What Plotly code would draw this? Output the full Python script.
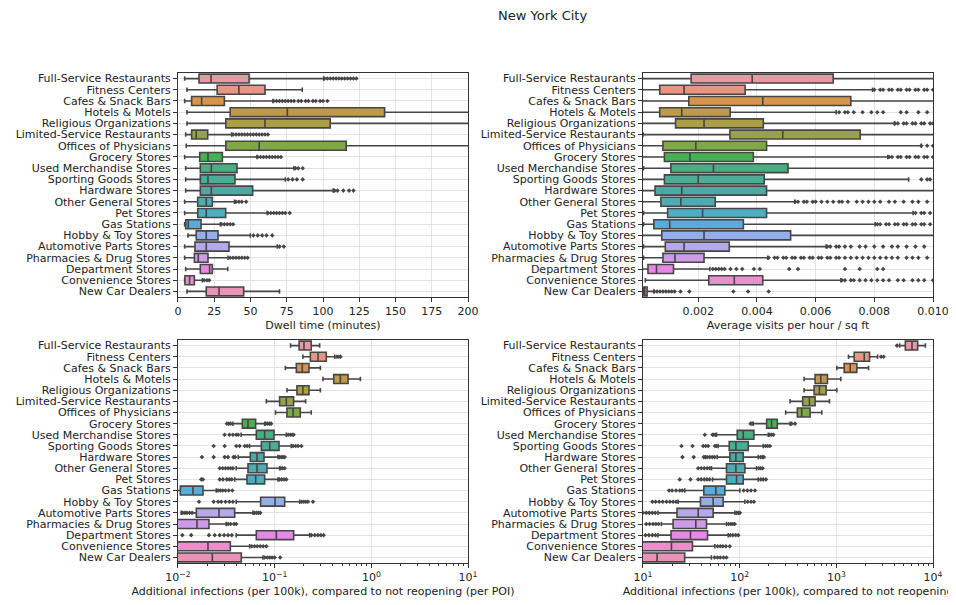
import colorsys
import math
import plotly.graph_objects as go

cats = ["Full-Service Restaurants", "Fitness Centers", "Cafes & Snack Bars", "Hotels & Motels",
        "Religious Organizations", "Limited-Service Restaurants", "Offices of Physicians",
        "Grocery Stores", "Used Merchandise Stores", "Sporting Goods Stores", "Hardware Stores",
        "Other General Stores", "Pet Stores", "Gas Stations", "Hobby & Toy Stores",
        "Automotive Parts Stores", "Pharmacies & Drug Stores", "Department Stores",
        "Convenience Stores", "New Car Dealers"]

# dwell time (minutes)
dwell_lo = [4.6, 6.2, 4.6, 6.2, 6.2, 5.3, 5.7, 4.6, 5.3, 5.3, 5.3, 4.6, 4.6, 4.6, 6.9, 4.6, 4.6, 5.3, 4.6, 6.2]
dwell_q1 = [14.5, 27, 9.4, 36, 33, 9.4, 33, 15, 15.4, 15.4, 15.4, 13.6, 13.6, 5.3, 12.6, 11.7, 11.3, 15.4, 4.8, 19.5]
dwell_med = [22.8, 42, 16.3, 75.4, 60, 12.6, 56, 20.7, 23, 20.7, 23, 19.5, 19.5, 7.1, 19.5, 19.5, 14, 21.8, 8, 28.3]
dwell_q3 = [49, 60, 32, 142.5, 105, 20.5, 116, 30.6, 40.7, 39.3, 51.5, 23.7, 32.9, 15.9, 27.6, 35.2, 20.7, 23.7, 11.3, 45.3]
dwell_hi = [100.5, 85.7, 65.5, 260, 250, 37, 290, 54.5, 80, 74, 107, 39, 61.6, 29.2, 49.9, 68.5, 34.5, 34.3, 16.8, 70]
dwell_out = [
    [101, 103, 105, 107, 109, 111, 113, 115, 117, 119, 121, 123],
    [],
    [66, 68, 70, 72, 74, 76, 78, 80, 83, 85, 88, 90, 93, 95, 98, 100, 103],
    [], [],
    [38, 40, 42, 44, 46, 48, 50, 52, 54, 56, 58, 60, 62],
    [],
    [55, 57, 59, 61, 63, 65, 67, 69, 71],
    [81, 83, 86],
    [76, 79, 82, 86],
    [108, 110, 114, 118, 121],
    [40, 42, 44, 47],
    [62, 64, 66, 68, 70, 72, 74, 77],
    [30, 32, 34, 36, 38],
    [52, 55, 58, 61, 65],
    [70, 73],
    [36, 38, 40, 42, 44, 46, 48],
    [],
    [18, 20, 21.5],
    [],
]

# average visits per hour / sq ft
visit_lo = [0.0001, 0.0001, 0.0001, 0.0001, 0.0001, 0.00013, 0.0001, 0.0001, 0.00014, 0.0001,
            0.0001, 0.0001, 0.00014, 0.00014, 0.0001, 0.00014, 0.00014, 0.0001, 0.0002, 0.00013]
visit_q1 = [0.00176, 0.00069, 0.00168, 0.00069, 0.00123, 0.00308, 0.0008, 0.00085, 0.00107, 0.00085,
            0.00053, 0.00073, 0.00096, 0.00049, 0.00076, 0.00088, 0.0008, 0.00029, 0.00236, 0.00015]
visit_med = [0.00384, 0.00152, 0.0042, 0.00144, 0.0022, 0.00488, 0.00192, 0.00172, 0.00252, 0.002,
             0.00144, 0.00141, 0.00215, 0.00103, 0.0022, 0.00152, 0.00121, 0.00058, 0.00323, 0.00018]
visit_q3 = [0.0066, 0.0036, 0.0072, 0.00309, 0.00422, 0.00752, 0.00433, 0.00388, 0.00506, 0.00425,
            0.00433, 0.00258, 0.00433, 0.00354, 0.00515, 0.00306, 0.0022, 0.00116, 0.0042, 0.00026]
visit_hi = [0.012, 0.00794, 0.012, 0.0067, 0.00869, 0.012, 0.0096, 0.00846, 0.012, 0.00917,
            0.012, 0.00529, 0.00932, 0.00803, 0.012, 0.00636, 0.00437, 0.0024, 0.00686, 0.00049]
visit_out = [
    [],
    [0.0080, 0.0082, 0.0083, 0.0085, 0.0086, 0.0088, 0.0089, 0.0091, 0.0092, 0.0094, 0.0095, 0.0097, 0.0098, 0.0100],
    [],
    [0.0068, 0.0070, 0.0071, 0.0073, 0.0076, 0.0079, 0.0081, 0.0083, 0.0089, 0.0091, 0.0095, 0.0098],
    [0.0087, 0.0088, 0.0090, 0.0091, 0.0093, 0.0094, 0.0096, 0.0097, 0.0099, 0.0100],
    [],
    [0.0096, 0.0098, 0.0100],
    [0.0085, 0.0086, 0.0088, 0.0089, 0.0091, 0.0092, 0.0094, 0.0095, 0.0097, 0.0098, 0.0100],
    [],
    [0.0096, 0.0098, 0.0099],
    [],
    [0.0053, 0.0054, 0.0056, 0.0057, 0.0059, 0.0060, 0.0062, 0.0064, 0.0066, 0.0068, 0.0069, 0.0071,
     0.0074, 0.0076, 0.0078, 0.0080, 0.0082, 0.0085, 0.0087, 0.0090, 0.0093, 0.0095, 0.0098],
    [0.0094, 0.0096, 0.0097, 0.0099],
    [0.0081, 0.0082, 0.0084, 0.0085, 0.0087, 0.0088, 0.0090, 0.0091, 0.0093, 0.0094, 0.0096, 0.0097, 0.0099],
    [],
    [0.0064, 0.0065, 0.0067, 0.0068, 0.0070, 0.0072, 0.0075, 0.0077, 0.0080, 0.0083, 0.0086, 0.0088, 0.0091, 0.0094, 0.0097],
    [0.0044, 0.0046, 0.0047, 0.0049, 0.0050, 0.0052, 0.0053, 0.0055, 0.0056, 0.0058, 0.0059, 0.0061,
     0.0062, 0.0064, 0.0065, 0.0067, 0.0068, 0.0070, 0.0072, 0.0074, 0.0076, 0.0078, 0.0080, 0.0082,
     0.0084, 0.0086, 0.0088, 0.0091, 0.0093, 0.0095, 0.0098],
    [0.0025, 0.0026, 0.0027, 0.0028, 0.0029, 0.0031, 0.0033, 0.0035, 0.0039, 0.0041, 0.0051, 0.0054,
     0.0070, 0.0075, 0.0081, 0.0083],
    [0.0069, 0.0070, 0.0072, 0.0073, 0.0075, 0.0077, 0.0079, 0.0081, 0.0083, 0.0085, 0.0088, 0.0090,
     0.0093, 0.0095, 0.0097, 0.0100],
    [0.0005, 0.0006, 0.0007, 0.0008, 0.0009, 0.0010, 0.0011, 0.0012, 0.0014, 0.0017, 0.0032, 0.0037, 0.0044],
]

# additional infections per 100k, per POI
poi_lo = [0.146, 0.196, 0.129, 0.316, 0.134, 0.082, 0.102, 0.037, 0.045, 0.055,
          0.042, 0.040, 0.0386, 0.005, 0.040, 0.0108, 0.003, 0.040, 0.003, 0.003]
poi_q1 = [0.179, 0.234, 0.1675, 0.408, 0.170, 0.1126, 0.134, 0.0463, 0.0646, 0.0728,
          0.056, 0.053, 0.0517, 0.01057, 0.0716, 0.01548, 0.008, 0.0646, 0.007, 0.006]
poi_med = [0.201, 0.281, 0.193, 0.478, 0.196, 0.132, 0.155, 0.053, 0.0788, 0.0888,
           0.0657, 0.0657, 0.0636, 0.01429, 0.1008, 0.02655, 0.01573, 0.104, 0.02043, 0.02265]
poi_q3 = [0.239, 0.342, 0.2265, 0.574, 0.2265, 0.157, 0.184, 0.0636, 0.0984, 0.1109,
          0.0776, 0.0833, 0.0788, 0.01814, 0.1269, 0.0386, 0.02093, 0.1573, 0.0348, 0.0452]
poi_hi = [0.292, 0.418, 0.297, 0.770, 0.297, 0.209, 0.239, 0.0788, 0.132, 0.1487,
          0.1083, 0.1126, 0.1083, 0.0249, 0.1815, 0.0597, 0.0316, 0.2301, 0.0551, 0.0757]
poi_out = [
    [],
    [0.44, 0.46, 0.48],
    [], [], [], [], [],
    [0.0321, 0.0335, 0.035, 0.081, 0.085, 0.089, 0.092],
    [0.0304, 0.034, 0.037, 0.040, 0.042, 0.138, 0.145, 0.152, 0.157],
    [0.0234, 0.0304, 0.0401, 0.0434, 0.049, 0.052, 0.155, 0.165, 0.175, 0.189],
    [0.0177, 0.0234, 0.0304, 0.0329, 0.0375, 0.039, 0.112, 0.117, 0.122, 0.127],
    [0.027, 0.029, 0.031, 0.033, 0.035, 0.037, 0.116, 0.121, 0.127],
    [0.0174, 0.0181, 0.027, 0.0292, 0.032, 0.034, 0.036, 0.112, 0.118, 0.125, 0.132],
    [0.026, 0.0275, 0.029, 0.031, 0.0335, 0.0365],
    [0.0165, 0.0234, 0.026, 0.028, 0.031, 0.034, 0.037, 0.19, 0.2, 0.21, 0.221, 0.249],
    [0.0112, 0.0118, 0.0124, 0.0132, 0.014, 0.062, 0.065, 0.068, 0.071],
    [0.033, 0.035, 0.038, 0.040],
    [0.0111, 0.0137, 0.0209, 0.024, 0.027, 0.030, 0.033, 0.036, 0.24, 0.26, 0.28, 0.30, 0.321],
    [0.058, 0.062, 0.066, 0.071, 0.076, 0.082],
    [0.079, 0.084, 0.089, 0.094, 0.100, 0.114],
]

# additional infections per 100k, total
inf_lo = [4515, 1336, 1011, 464, 464, 332, 299, 138, 57.6, 59.9,
          58.5, 51.1, 52.4, 27.05, 23.07, 14.3, 15.5, 14.3, 3, 3]
inf_q1 = [5168, 1530, 1205, 603, 589, 449, 395, 190, 94.4, 78,
          79.2, 73.1, 73.1, 42.6, 39.3, 22.5, 20.5, 19.5, 8, 7]
inf_med = [6062, 1943, 1390, 690, 669, 527, 438, 214, 108.9, 91.4,
           91.4, 91.4, 92.9, 56.7, 53.2, 37.2, 35.2, 31, 19.7, 14]
inf_q3 = [6940, 2206, 1630, 809, 784, 603, 535, 245, 140.5, 122.7,
          108.9, 113.3, 108.9, 70.3, 67.5, 53.2, 45.4, 46.5, 32.5, 27]
inf_hi = [8332, 2671, 2154, 1113, 1011, 849, 707, 332, 197.8, 175.5,
          155.8, 149.7, 155.8, 100.6, 113.3, 89.25, 73.1, 76.1, 55.4, 51.1]
inf_out = [
    [4237],
    [2900, 3083],
    [], [], [], [], [],
    [129.7, 134, 345, 374],
    [43.6, 52.4, 54, 56, 205, 214, 223],
    [25, 32.5, 41.9, 44.5, 47.2, 55.4, 57.5, 185, 195, 205.8],
    [25.6, 33.5, 42.6, 44, 46, 49, 52, 55, 165, 172, 178],
    [37.2, 40, 43, 46, 49, 158, 165, 172.8],
    [24, 31, 37.2, 40, 43, 46, 49, 165, 175, 187],
    [18.6, 20, 22, 24, 25.5, 110, 120, 131, 144],
    [12.5, 13.5, 14.7, 16, 17.5, 19, 20.5, 22, 121, 131, 140.5],
    [10, 10.8, 11.6, 12.5, 13.4, 93, 97, 100.6],
    [10.8, 11.7, 12.7, 13.6, 14.5, 77, 81, 85, 89],
    [10.6, 11.5, 12.5, 13.5, 80, 85, 91, 96.6],
    [59, 63, 67, 72, 79],
    [55, 59, 63, 68, 73],
]

poi_ticks = [0.01, 0.1, 1, 10]
poi_ticktext = ["10<sup>\u22122</sup>", "10<sup>\u22121</sup>", "10<sup>0</sup>", "10<sup>1</sup>"]
inf_ticks = [10, 100, 1000, 10000]
inf_ticktext = ["10<sup>1</sup>", "10<sup>2</sup>", "10<sup>3</sup>", "10<sup>4</sup>"]

# seaborn husl palette (l=.7) desaturated to .75, like sns.boxplot does for many boxes
M = [[3.2406, -1.5372, -0.4986], [-0.9689, 1.8758, 0.0415], [0.0557, -0.2040, 1.0570]]


def max_chroma(L, H):
    hrad = math.radians(H)
    sinH, cosH = math.sin(hrad), math.cos(hrad)
    sub1 = (L + 16) ** 3 / 1560896.0
    sub2 = sub1 if sub1 > 0.008856 else L / 903.3
    result = float("inf")
    for m1, m2, m3 in M:
        top = (0.99915 * m1 + 1.05122 * m2 + 1.14460 * m3) * sub2
        rbottom = 0.86330 * m3 - 0.17266 * m2
        lbottom = 0.12949 * m3 - 0.38848 * m1
        bottom = (rbottom * sinH + lbottom * cosH) * sub2
        for t in (0.0, 1.0):
            C = L * (top - 1.05122 * t) / (bottom + 0.17266 * sinH * t)
            if 0.0 < C < result:
                result = C
    return result


def husl_rgb(H, S, L):
    C = max_chroma(L, H) / 100.0 * S
    U, V = C * math.cos(math.radians(H)), C * math.sin(math.radians(H))
    Y = ((L + 16) / 116.0) ** 3 if L > 8 else L / 903.2962962
    vu = U / (13 * L) + 0.19783941881
    vv = V / (13 * L) + 0.46834451983
    X = 0 - (9 * Y * vu) / ((vu - 4.0) * vv - vu * vv)
    Z = (9.0 * Y - 15.0 * vv * Y - vv * X) / (3.0 * vv)
    out = []
    for row in M:
        c = row[0] * X + row[1] * Y + row[2] * Z
        c = 12.92 * c if c <= 0.0031308 else 1.055 * c ** (1 / 2.4) - 0.055
        out.append(min(max(c, 0.0), 1.0))
    return out


colors = []
lights = []
for i in range(len(cats)):
    h = ((i / len(cats)) + 0.01) % 1 * 359
    r, g, b = husl_rgb(h, 0.9 * 99, 0.7 * 99)
    hh, ll, ss = colorsys.rgb_to_hls(r, g, b)
    r, g, b = colorsys.hls_to_rgb(hh, ll, ss * 0.75)
    lights.append(colorsys.rgb_to_hls(r, g, b)[1])
    colors.append("rgb(%d,%d,%d)" % (round(r * 255), round(g * 255), round(b * 255)))
lum = round(min(lights) * 0.6 * 255)
gray = "rgb(%d,%d,%d)" % (lum, lum, lum)

fig = go.Figure()

panels = [
    ("x", "y", dwell_lo, dwell_q1, dwell_med, dwell_q3, dwell_hi, dwell_out),
    ("x2", "y2", visit_lo, visit_q1, visit_med, visit_q3, visit_hi, visit_out),
    ("x3", "y3", poi_lo, poi_q1, poi_med, poi_q3, poi_hi, poi_out),
    ("x4", "y4", inf_lo, inf_q1, inf_med, inf_q3, inf_hi, inf_out),
]

for xa, ya, lo, q1, med, q3, hi, out in panels:
    for i, c in enumerate(cats):
        fig.add_trace(go.Box(
            y=[c], q1=[q1[i]], median=[med[i]], q3=[q3[i]],
            lowerfence=[lo[i]], upperfence=[hi[i]],
            orientation="h", width=0.8, whiskerwidth=0.5,
            fillcolor=colors[i], line=dict(color=gray, width=1.6),
            xaxis=xa, yaxis=ya, showlegend=False, hoverinfo="skip",
        ))
    ox, oy = [], []
    for i, c in enumerate(cats):
        ox += out[i]
        oy += [c] * len(out[i])
    fig.add_trace(go.Scatter(
        x=ox, y=oy, mode="markers",
        marker=dict(symbol="diamond", size=3.5, color=gray, line=dict(width=0)),
        xaxis=xa, yaxis=ya, showlegend=False, hoverinfo="skip",
    ))

grid = "#e3e3e3"
frame = "#333333"
title_font = dict(size=11)
common_x = dict(showline=True, mirror=True, linecolor=frame, linewidth=1, ticks="outside",
                ticklen=4, tickcolor=frame, showgrid=True, gridcolor=grid, zeroline=False,
                tickfont=dict(size=11), automargin=False)
common_y = dict(type="category", categoryorder="array", categoryarray=cats, range=[19.5, -0.5],
                tickmode="array", tickvals=cats,
                showline=True, mirror=True, linecolor=frame, linewidth=1, ticks="outside",
                ticklen=4, tickcolor=frame, showgrid=True, gridcolor=grid,
                tickfont=dict(size=11), automargin=False)
minor_log = dict(ticks="outside", ticklen=2, tickcolor=frame, showgrid=False, dtick="D1")

# the page body adds an 8px offset, so the domains below are shifted up/left by 8px
fig.update_layout(
    width=956, height=605,
    margin=dict(l=0, r=0, t=0, b=0),
    paper_bgcolor="white", plot_bgcolor="white",
    font=dict(family="DejaVu Sans", size=11, color="#222222"),
    xaxis=dict(common_x, domain=[0.1778, 0.4812], anchor="y", range=[0, 200], dtick=25,
               title=dict(text="Dwell time (minutes)", standoff=4, font=title_font)),
    yaxis=dict(common_y, domain=[0.5223, 0.8926], anchor="x"),
    xaxis2=dict(common_x, domain=[0.6642, 0.9676], anchor="y2", range=[0.00012, 0.010],
                tick0=0, dtick=0.002, tickformat=".3f",
                title=dict(text="Average visits per hour / sq ft", standoff=4, font=title_font)),
    yaxis2=dict(common_y, domain=[0.5223, 0.8926], anchor="x2"),
    xaxis3=dict(common_x, domain=[0.1778, 0.4812], anchor="y3", type="log", range=[-2, 1],
                tickmode="array", tickvals=poi_ticks, ticktext=poi_ticktext, minor=minor_log,
                title=dict(text="Additional infections (per 100k), compared to not reopening (per POI)",
                           standoff=4, font=title_font)),
    yaxis3=dict(common_y, domain=[0.0826, 0.4512], anchor="x3"),
    xaxis4=dict(common_x, domain=[0.6642, 0.9676], anchor="y4", type="log", range=[1, 4],
                tickmode="array", tickvals=inf_ticks, ticktext=inf_ticktext, minor=minor_log,
                title=dict(text="Additional infections (per 100k), compared to not reopening",
                           standoff=4, font=title_font)),
    yaxis4=dict(common_y, domain=[0.0826, 0.4512], anchor="x4"),
    annotations=[dict(text="New York City", x=0.5596, y=0.9884, xref="paper", yref="paper",
                      showarrow=False, font=dict(size=13), xanchor="center", yanchor="middle")],
)

fig.write_html("out.html")
